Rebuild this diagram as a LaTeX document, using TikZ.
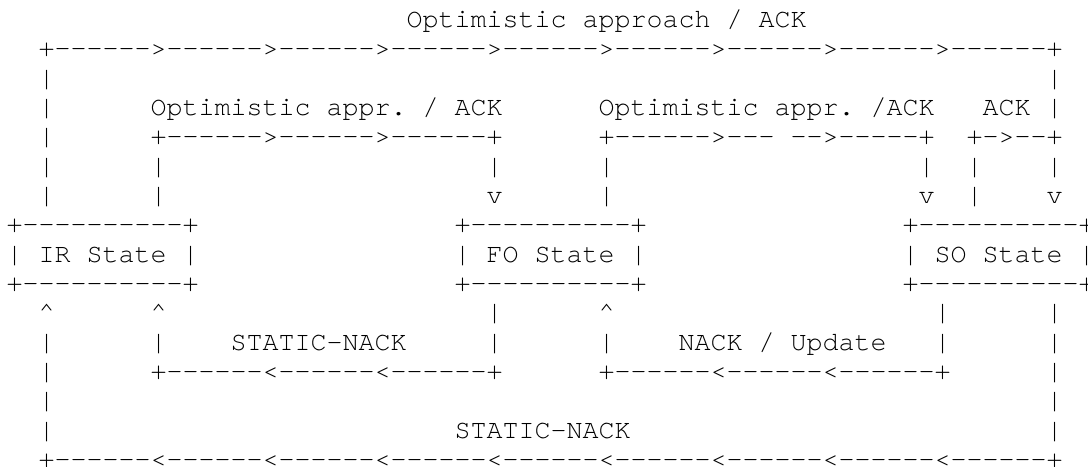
\documentclass[tikz,border=0pt]{standalone}
\usepackage{fontspec}
\setmonofont{TeX Gyre Cursor}
\tikzset{
  txt/.style={inner sep=0pt, outer sep=0pt, anchor=base west, text=black,
              font=\ttfamily\fontsize{20}{22}\selectfont}
}
% place text #4 with name #1 at column #2, row #3 of the character grid
\newcommand\putat[4]{\node[txt] (#1) at ({5pt+12pt*#2},{-20.7pt-22pt*#3}) {#4};}
\begin{document}
\begin{tikzpicture}
\useasboundingbox[fill=white] (0,0) rectangle (816pt,-350.25pt);
% row 0
\putat{titleTop}{25}{0}{Optimistic approach / ACK}
% row 1
\putat{topLine}{2}{1}{+------>------>------>------>------>------>------>------>------+}
% row 2
\putat{r2a}{2}{2}{|}
\putat{r2b}{65}{2}{|}
% row 3
\putat{r3a}{2}{3}{|}
\putat{lblIRFO}{9}{3}{Optimistic appr. / ACK}
\putat{lblFOSO}{37}{3}{Optimistic appr. /ACK}
\putat{lblSOSO}{61}{3}{ACK}
\putat{r3b}{65}{3}{|}
% row 4
\putat{r4a}{2}{4}{|}
\putat{lineIRFO}{9}{4}{+------>------>------+}
\putat{lineFOSO}{37}{4}{+------>--- -->-----+}
\putat{lineSOSO}{60}{4}{+->--+}
% row 5
\putat{r5a}{2}{5}{|}
\putat{r5b}{9}{5}{|}
\putat{r5c}{30}{5}{|}
\putat{r5d}{37}{5}{|}
\putat{r5e}{57}{5}{|}
\putat{r5f}{60}{5}{|}
\putat{r5g}{65}{5}{|}
% row 6
\putat{r6a}{2}{6}{|}
\putat{r6b}{9}{6}{|}
\putat{r6c}{30}{6}{v}
\putat{r6d}{37}{6}{|}
\putat{r6e}{57}{6}{v}
\putat{r6f}{60}{6}{|}
\putat{r6g}{65}{6}{v}
% rows 7-9: state boxes
\putat{irTop}{0}{7}{+----------+}
\putat{foTop}{28}{7}{+----------+}
\putat{soTop}{56}{7}{+----------+}
\putat{irState}{0}{8}{| IR State |}
\putat{foState}{28}{8}{| FO State |}
\putat{soState}{56}{8}{| SO State |}
\putat{irBot}{0}{9}{+----------+}
\putat{foBot}{28}{9}{+----------+}
\putat{soBot}{56}{9}{+----------+}
% row 10
\putat{r10a}{2}{10}{\textasciicircum}
\putat{r10b}{9}{10}{\textasciicircum}
\putat{r10c}{30}{10}{|}
\putat{r10d}{37}{10}{\textasciicircum}
\putat{r10e}{58}{10}{|}
\putat{r10f}{65}{10}{|}
% row 11
\putat{r11a}{2}{11}{|}
\putat{r11b}{9}{11}{|}
\putat{lblFOIR}{14}{11}{STATIC-NACK}
\putat{r11c}{30}{11}{|}
\putat{r11d}{37}{11}{|}
\putat{lblSOFO}{42}{11}{NACK / Update}
\putat{r11e}{58}{11}{|}
\putat{r11f}{65}{11}{|}
% row 12
\putat{r12a}{2}{12}{|}
\putat{lineFOIR}{9}{12}{+------<------<------+}
\putat{lineSOFO}{37}{12}{+------<------<------+}
\putat{r12b}{65}{12}{|}
% row 13
\putat{r13a}{2}{13}{|}
\putat{r13b}{65}{13}{|}
% row 14
\putat{r14a}{2}{14}{|}
\putat{lblSOIR}{28}{14}{STATIC-NACK}
\putat{r14b}{65}{14}{|}
% row 15
\putat{bottomLine}{2}{15}{+------<------<------<------<------<------<------<------<------+}
\end{tikzpicture}
\end{document}
